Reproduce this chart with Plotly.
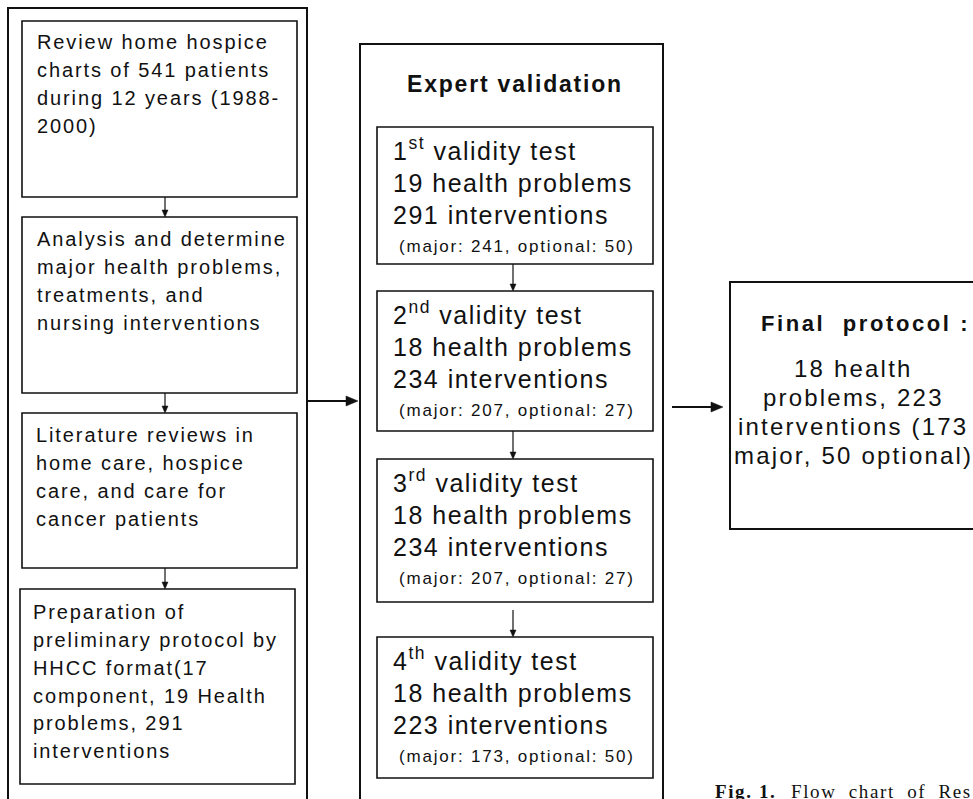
import plotly.graph_objects as go

# ---------------- data (text content of the flow chart) ----------------
left_steps = [
    ["Review home hospice", "charts of 541 patients", "during 12 years (1988-", "2000)"],
    ["Analysis and determine", "major health problems,", "treatments, and", "nursing interventions"],
    ["Literature reviews in", "home care, hospice", "care, and care for", "cancer patients"],
    ["Preparation of", "preliminary protocol by", "HHCC format(17", "component, 19 Health",
     "problems, 291", "interventions"],
]
middle_title = "Expert validation"
test_numbers = ["1", "2", "3", "4"]
test_suffixes = ["st", "nd", "rd", "th"]
health_problems = [19, 18, 18, 18]
interventions = [291, 234, 234, 223]
major_interv = [241, 207, 207, 173]
optional_interv = [50, 27, 27, 50]
final_title = "Final&nbsp; protocol :"
final_lines = ["18 health", "problems, 223", "interventions (173", "major, 50 optional)"]
caption_bold = "Fig. 1."
caption_rest = "Flow chart of Res"

# ---------------- layout geometry (pixels, y downward) ----------------
W, H = 973, 799
SANS = "Liberation Sans, Arial, sans-serif"
SERIF = "Liberation Serif, Times New Roman, serif"

left_outer = (8, 8, 307, 830)
left_boxes = [(22, 21, 297, 197), (22, 217, 297, 393), (22, 413, 297, 568), (20, 589, 295, 784)]
left_text_x = [36, 36, 35, 32]
left_first_base = [50, 247, 443, 620]
left_line_gap = 27.8

mid_outer = (360, 44, 663, 830)
mid_boxes = [(377, 127, 653, 264), (377, 291, 653, 431), (377, 459, 653, 602), (377, 637, 653, 778)]
final_box = (730, 282, 976, 529)

fig = go.Figure()
shapes = []
annotations = []


def rect(b, w=1.6):
    shapes.append(dict(type="rect", xref="x", yref="y", x0=b[0], y0=b[1], x1=b[2], y1=b[3],
                       line=dict(color="#111", width=w), fillcolor="rgba(0,0,0,0)", layer="above"))


def arrow(x0, y0, x1, y1, w=1.2, hl=7, hw=3):
    if x0 == x1:  # vertical, pointing down
        shapes.append(dict(type="line", xref="x", yref="y", x0=x0, y0=y0, x1=x1, y1=y1 - hl + 1,
                           line=dict(color="#111", width=w)))
        path = f"M{x1 - hw},{y1 - hl} L{x1 + hw},{y1 - hl} L{x1},{y1} Z"
    else:  # horizontal, pointing right
        shapes.append(dict(type="line", xref="x", yref="y", x0=x0, y0=y0, x1=x1 - hl + 1, y1=y1,
                           line=dict(color="#111", width=w)))
        path = f"M{x1 - hl},{y1 - hw} L{x1 - hl},{y1 + hw} L{x1},{y1} Z"
    shapes.append(dict(type="path", xref="x", yref="y", path=path, fillcolor="#111",
                       line=dict(color="#111", width=0.5)))


def text_line(x, base, txt, fs, ls, bold=False, anchor="left", family=SANS, ws=None, top=False):
    style = f"letter-spacing:{ls}px"
    if ws is not None:
        style += f";word-spacing:{ws}px"
    t = f'<span style="{style}">{txt}</span>'
    if top:
        y, ya = base - 0.891 * fs, "top"
    else:
        y, ya = base + 0.212 * fs, "bottom"
    annotations.append(dict(x=x, y=y, xref="x", yref="y", text=t, showarrow=False,
                            xanchor=anchor, yanchor=ya, align=anchor, borderpad=0,
                            font=dict(family=family, size=fs, color="#111",
                                      weight="bold" if bold else "normal")))


# left column
rect(left_outer, 2)
for i, b in enumerate(left_boxes):
    rect(b)
    for j, ln in enumerate(left_steps[i]):
        text_line(left_text_x[i], left_first_base[i] + j * left_line_gap, ln, 20, 1.9)
for i in range(len(left_boxes) - 1):
    arrow(165, left_boxes[i][3], 165, left_boxes[i + 1][1])

# connector left -> middle
arrow(307, 401, 358, 401, w=2, hl=12, hw=5)

# middle column
rect(mid_outer, 2)
text_line(515, 93, middle_title, 23, 1.8, bold=True, anchor="center")
for i, b in enumerate(mid_boxes):
    rect(b)
    top = b[1]
    text_line(392, top + 34, f"{test_numbers[i]}<sup>{test_suffixes[i]}</sup> validity test", 25, 1.5)
    text_line(392, top + 66, f"{health_problems[i]} health problems", 25, 1.5)
    text_line(392, top + 98, f"{interventions[i]} interventions", 25, 1.5)
    text_line(398, top + 126, f"(major: {major_interv[i]}, optional: {optional_interv[i]})", 17, 1.8)
arrow_starts = [264, 431, 610]
for i in range(len(mid_boxes) - 1):
    arrow(513, arrow_starts[i], 513, mid_boxes[i + 1][1])

# connector middle -> final
arrow(672, 407, 723, 407, w=2, hl=12, hw=5)

# final box
rect(final_box, 2)
text_line(865, 332, final_title, 22, 2.6, bold=True, anchor="center")
for j, ln in enumerate(final_lines):
    text_line(853, 378 + j * 29, ln, 24, 2.2, anchor="center")

# caption (cut off at the page edge)
text_line(714, 797, caption_bold, 19, 1.6, bold=True, family=SERIF, top=True)
text_line(790, 797, caption_rest, 19, 1.6, family=SERIF, ws=6, top=True)

fig.update_layout(
    width=W, height=H, autosize=False,
    margin=dict(l=0, r=0, t=0, b=0),
    paper_bgcolor="white", plot_bgcolor="white",
    xaxis=dict(range=[0, W], visible=False, fixedrange=True),
    yaxis=dict(range=[H, 0], visible=False, fixedrange=True),
    shapes=shapes, annotations=annotations, showlegend=False,
)

fig.write_html("out.html", config={"displayModeBar": False},
               post_script="document.body.style.margin='0';document.body.style.overflow='hidden';")
